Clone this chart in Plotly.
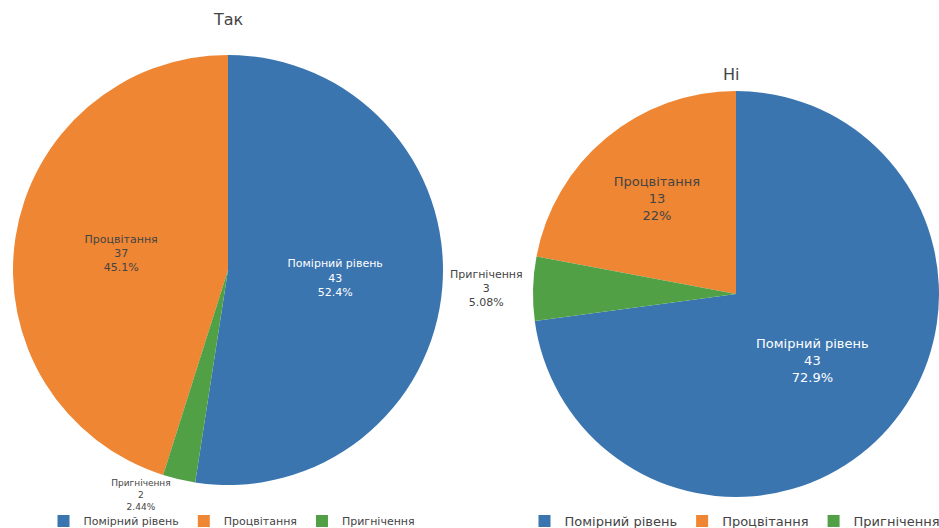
import plotly.graph_objects as go

# Survey answers split by the state reported
categories = ["Помірний рівень", "Процвітання", "Пригнічення"]
values_yes = [43, 37, 2]
values_no = [43, 13, 3]
titles = ["Так", "Ні"]
colors = ["#3a75b0", "#ef8633", "#52a046"]

W, H = 939, 528

def px_domain(x0, x1, y0, y1):
    """Convert a pixel box (top-left origin) to paper domain."""
    return dict(x=[x0 / W, x1 / W], y=[(H - y1) / H, (H - y0) / H])

# a zero-width suffix keeps the second pie's legend entries separate
labels_no = [c + "\u200b" for c in categories]

fig = go.Figure()

fig.add_trace(go.Pie(
    labels=categories,
    values=values_yes,
    direction="counterclockwise",
    sort=True,
    marker=dict(colors=colors, line=dict(width=0)),
    textinfo="label+value+percent",
    textposition=["inside", "inside", "outside"],
    insidetextorientation="horizontal",
    textfont=dict(size=11),
    outsidetextfont=dict(size=9, color="#444"),
    domain=px_domain(13, 443, 55, 485),
    legend="legend",
    hoverinfo="label+value+percent",
))

fig.add_trace(go.Pie(
    labels=labels_no,
    values=values_no,
    direction="counterclockwise",
    sort=True,
    marker=dict(colors=colors, line=dict(width=0)),
    textinfo="label+value+percent",
    textposition=["inside", "inside", "outside"],
    insidetextorientation="horizontal",
    textfont=dict(size=13),
    outsidetextfont=dict(size=11, color="#444"),
    domain=px_domain(533, 939, 91, 497),
    legend="legend2",
    hoverinfo="label+value+percent",
))

fig.update_layout(
    width=W,
    height=H,
    margin=dict(l=0, r=0, t=0, b=0, autoexpand=False),
    paper_bgcolor="white",
    plot_bgcolor="white",
    font=dict(family="DejaVu Sans, Verdana, sans-serif", color="#444"),
    legend=dict(
        orientation="h", x=232 / W, xanchor="center", y=7 / H, yanchor="middle",
        font=dict(size=11), bgcolor="rgba(0,0,0,0)",
    ),
    legend2=dict(
        orientation="h", x=735 / W, xanchor="center", y=7 / H, yanchor="middle",
        font=dict(size=13), bgcolor="rgba(0,0,0,0)",
    ),
    annotations=[
        dict(text=titles[0], x=228 / W, y=(H - 20) / H, xref="paper", yref="paper",
             showarrow=False, font=dict(size=16, color="#444"), xanchor="center", yanchor="middle"),
        dict(text=titles[1], x=731 / W, y=(H - 74) / H, xref="paper", yref="paper",
             showarrow=False, font=dict(size=16, color="#444"), xanchor="center", yanchor="middle"),
    ],
)

fig.write_html("out.html")
